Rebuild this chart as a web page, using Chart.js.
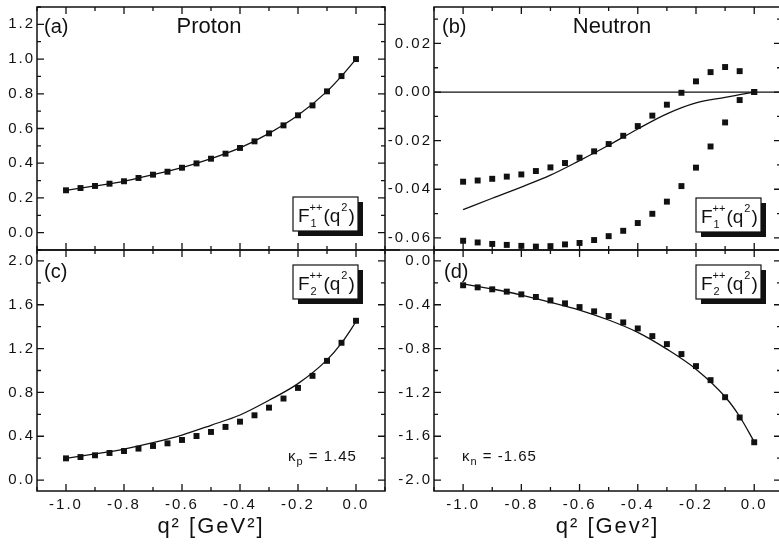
<!DOCTYPE html>
<html>
<head>
<meta charset="utf-8">
<script src="https://cdn.jsdelivr.net/npm/chart.js@4.4.0/dist/chart.umd.min.js"></script>
<style>
  body { margin: 0; background: #fff; width: 779px; height: 547px; overflow: hidden; position: relative; }
  canvas { position: absolute; }
</style>
</head>
<body>
<canvas id="pa" width="400" height="260" style="left:0px;top:0px"></canvas>
<canvas id="pc" width="400" height="307" style="left:0px;top:240px"></canvas>
<canvas id="pb" width="410" height="260" style="left:380px;top:0px"></canvas>
<canvas id="pd" width="410" height="307" style="left:380px;top:240px"></canvas>
<script>
// q^2 of the squares and of the curves (GeV^2)
const q2 = [-1.0, -0.95, -0.9, -0.85, -0.8, -0.75, -0.7, -0.65, -0.6, -0.55, -0.5,
            -0.45, -0.4, -0.35, -0.3, -0.25, -0.2, -0.15, -0.1, -0.05, 0.0];
const lineQ2 = [-1.0, -0.9, -0.8, -0.7, -0.6, -0.5, -0.4, -0.3, -0.2, -0.1, -0.05, 0.0];

// (a) proton F1
const protonF1 = [0.244, 0.257, 0.269, 0.282, 0.296, 0.315, 0.334, 0.351, 0.374, 0.399, 0.426,
                  0.455, 0.488, 0.526, 0.572, 0.618, 0.676, 0.733, 0.814, 0.902, 1.0];
const protonF1Curve = [0.244, 0.269, 0.296, 0.334, 0.374, 0.426, 0.488, 0.572, 0.676, 0.814, 0.902, 1.0];

// (b) neutron F1, two sets of squares
const neutronF1Upper = [-0.0369, -0.0364, -0.0357, -0.0348, -0.0339, -0.0325, -0.0310, -0.0292, -0.0270, -0.0244, -0.0214,
                        -0.0180, -0.0140, -0.0097, -0.0052, -0.0003, 0.0044, 0.0082, 0.0103, 0.0086, 0.0];
const neutronF1Lower = [-0.0612, -0.0619, -0.0625, -0.0629, -0.0633, -0.0636, -0.0634, -0.0627, -0.0621, -0.0609, -0.0593,
                        -0.0571, -0.0539, -0.0501, -0.0451, -0.0387, -0.0311, -0.0224, -0.0125, -0.0033, 0.0];
const neutronF1Curve = [-0.0484, -0.0437, -0.0391, -0.0342, -0.0282, -0.0219, -0.0152, -0.0090, -0.0045, -0.0022, -0.0011, 0.0];

// (c) proton F2
const protonF2 = [0.198, 0.210, 0.226, 0.247, 0.265, 0.287, 0.311, 0.335, 0.366, 0.402, 0.439,
                  0.485, 0.533, 0.591, 0.661, 0.744, 0.841, 0.951, 1.088, 1.253, 1.454];
const protonF2Curve = [0.198, 0.238, 0.283, 0.341, 0.411, 0.500, 0.594, 0.728, 0.880, 1.097, 1.25, 1.445];

// (d) neutron F2
const neutronF2 = [-0.222, -0.241, -0.259, -0.280, -0.305, -0.329, -0.360, -0.387, -0.421, -0.460, -0.503,
                   -0.561, -0.616, -0.686, -0.759, -0.850, -0.960, -1.088, -1.244, -1.429, -1.655];
const neutronF2Curve = [-0.21, -0.256, -0.311, -0.378, -0.448, -0.539, -0.652, -0.805, -0.988, -1.240, -1.42, -1.65];

// tick labels
const xTicks = [-1.0, -0.8, -0.6, -0.4, -0.2, 0.0];
const yTicksA = [0.0, 0.2, 0.4, 0.6, 0.8, 1.0, 1.2];
const yTicksB = [-0.06, -0.04, -0.02, 0.0, 0.02];
const yTicksC = [0.0, 0.4, 0.8, 1.2, 1.6, 2.0];
const yTicksD = [-2.0, -1.6, -1.2, -0.8, -0.4, 0.0];

const ink = '#111';
const FONT = 'Liberation Sans, Arial, sans-serif';
Chart.defaults.font.family = FONT;
Chart.defaults.font.size = 15;
Chart.defaults.color = ink;

const pts = (xs, ys) => xs.map((x, i) => ({ x, y: ys[i] }));

function text(ctx, s, x, y, size, align) {
  ctx.font = size + 'px ' + FONT;
  ctx.textAlign = align || 'left';
  ctx.textBaseline = 'alphabetic';
  ctx.fillText(s, x, y);
  return ctx.measureText(s).width;
}

// framed label  F_n^{++}(q^2) with a drop shadow
function fBox(ctx, x, y, sub) {
  const w = 65, h = 34;
  ctx.fillStyle = ink;
  ctx.fillRect(x + 5, y + 5, w, h);
  ctx.fillStyle = '#fff';
  ctx.fillRect(x, y, w, h);
  ctx.strokeStyle = ink;
  ctx.lineWidth = 1.2;
  ctx.strokeRect(x, y, w, h);
  ctx.fillStyle = ink;
  let cx = x + 5;
  cx += text(ctx, 'F', cx, y + 25, 19);
  const sw = text(ctx, '++', cx, y + 14, 11);
  text(ctx, sub, cx + 1, y + 30, 11);
  cx += sw + 1;
  cx += text(ctx, '(q', cx, y + 25, 19);
  cx += text(ctx, '2', cx + 1, y + 14, 11) + 2;
  text(ctx, ')', cx, y + 25, 19);
}

function kappa(ctx, x, y, sub, val) {
  ctx.fillStyle = ink;
  ctx.letterSpacing = '1px';
  let cx = x;
  cx += text(ctx, 'κ', cx, y, 15);
  cx += text(ctx, sub, cx, y + 4, 11);
  text(ctx, ' = ' + val, cx, y, 15);
  ctx.letterSpacing = '0px';
}

// inner tick marks on all four sides, frame, zero line and panel texts
const panelDeco = {
  id: 'panelDeco',
  beforeDraw(chart) {
    chart.ctx.letterSpacing = '2px';
  },
  beforeDatasetsDraw(chart, args, o) {
    const ctx = chart.ctx, a = chart.chartArea;
    ctx.letterSpacing = '0px';
    if (o.zeroLine) {
      const y0 = chart.scales.y.getPixelForValue(0);
      ctx.save();
      ctx.strokeStyle = ink;
      ctx.lineWidth = 1.2;
      ctx.beginPath();
      ctx.moveTo(a.left, y0);
      ctx.lineTo(a.right, y0);
      ctx.stroke();
      ctx.restore();
    }
  },
  afterDraw(chart, args, o) {
    const ctx = chart.ctx, a = chart.chartArea;
    const sx = chart.scales.x, sy = chart.scales.y;
    ctx.save();
    ctx.strokeStyle = ink;
    ctx.fillStyle = ink;
    ctx.lineWidth = 1.5;
    ctx.strokeRect(a.left, a.top, a.right - a.left, a.bottom - a.top);
    // the split line between upper and lower rows runs through the gap
    if (o.split) {
      ctx.beginPath();
      ctx.moveTo(o.split === 'right' ? a.right : 0, a.bottom);
      ctx.lineTo(o.split === 'right' ? chart.width : a.left, a.bottom);
      ctx.stroke();
    }

    ctx.lineWidth = 1.3;
    const marks = (major, lo, hi) => {
      const step = major[1] - major[0];
      const out = [];
      major.forEach(v => out.push([v, 7]));
      major.forEach(v => out.push([v + step / 2, 4]));
      out.push([major[0] - step / 2, 4]);
      return out.filter(m => m[0] >= lo - 1e-9 && m[0] <= hi + 1e-9);
    };
    ctx.beginPath();
    marks(o.xMajor, sx.min, sx.max).forEach(([v, len]) => {
      const px = sx.getPixelForValue(v);
      ctx.moveTo(px, a.bottom); ctx.lineTo(px, a.bottom - len);
      ctx.moveTo(px, a.top); ctx.lineTo(px, a.top + len);
    });
    marks(o.yMajor, sy.min, sy.max).forEach(([v, len]) => {
      const py = sy.getPixelForValue(v);
      ctx.moveTo(a.left, py); ctx.lineTo(a.left + len, py);
      ctx.moveTo(a.right, py); ctx.lineTo(a.right - len, py);
    });
    ctx.stroke();

    text(ctx, o.tag, a.left + o.tagX, a.top + o.tagY, 20);
    if (o.title) text(ctx, o.title, a.left + o.titleX, a.top + 26, 22, 'center');
    fBox(ctx, a.left + o.boxX, a.top + o.boxY, o.boxSub);
    if (o.kappa) kappa(ctx, a.left + o.kappa.x, a.top + o.kappa.y, o.kappa.sub, o.kappa.val);
    ctx.restore();
  }
};

// keep the plot area exactly where the layout padding puts it
const noLabelPad = s => { s.paddingTop = 0; s.paddingBottom = 0; s.paddingLeft = 0; s.paddingRight = 0; };

function panel(id, p) {
  const datasets = p.squares.map(s => ({
    data: pts(q2, s),
    showLine: false,
    pointStyle: 'rect',
    pointRadius: 4.2,
    pointBorderWidth: 0,
    pointBackgroundColor: ink
  }));
  datasets.push({
    data: pts(lineQ2, p.curve),
    showLine: true,
    pointRadius: 0,
    borderColor: ink,
    borderWidth: 1.3,
    cubicInterpolationMode: 'monotone'
  });
  const dec = p.yDec;
  return new Chart(document.getElementById(id), {
    type: 'scatter',
    data: { datasets },
    options: {
      responsive: false,
      animation: false,
      events: [],
      layout: { padding: p.padding },
      plugins: {
        legend: { display: false },
        tooltip: { enabled: false },
        panelDeco: p.deco
      },
      scales: {
        x: {
          type: 'linear',
          min: -1.1,
          max: p.xMax,
          display: p.showX,
          grid: { display: false, drawTicks: false },
          border: { display: false },
          ticks: { padding: 5, maxRotation: 0, autoSkip: false, callback: v => v.toFixed(1) },
          afterBuildTicks: s => { s.ticks = xTicks.map(v => ({ value: v })); },
          afterFit: s => { s.height = p.showX ? 56 : 0; noLabelPad(s); },
          title: {
            display: p.showX,
            text: p.xTitle || '',
            color: ink,
            font: { size: 22 },
            padding: { top: 0, bottom: 7 }
          }
        },
        y: {
          type: 'linear',
          min: p.yMin,
          max: p.yMax,
          grid: { display: false, drawTicks: false },
          border: { display: false },
          ticks: { padding: 2, autoSkip: false, callback: v => v.toFixed(dec) },
          afterBuildTicks: s => { s.ticks = p.yTicks.map(v => ({ value: v })); },
          afterFit: s => { s.width = p.yWidth; noLabelPad(s); }
        }
      }
    },
    plugins: [panelDeco]
  });
}

panel('pa', {
  squares: [protonF1], curve: protonF1Curve,
  xMax: 0.1, showX: false, yMin: -0.1, yMax: 1.3, yTicks: yTicksA, yDec: 1, yWidth: 37,
  padding: { top: 7, right: 15, bottom: 10, left: 0 },
  deco: { xMajor: xTicks, yMajor: yTicksA, split: 'right', tag: '(a)', tagX: 7, tagY: 26, title: 'Proton', titleX: 172,
          boxX: 256, boxY: 190, boxSub: '1' }
});

panel('pc', {
  squares: [protonF2], curve: protonF2Curve,
  xMax: 0.1, showX: true, xTitle: 'q² [GeV²]', yMin: -0.1, yMax: 2.1, yTicks: yTicksC, yDec: 1, yWidth: 37,
  padding: { top: 10, right: 15, bottom: 0, left: 0 },
  deco: { xMajor: xTicks, yMajor: yTicksC, tag: '(c)', tagX: 7, tagY: 28,
          boxX: 256, boxY: 15, boxSub: '2',
          kappa: { x: 251, y: 211, sub: 'p', val: '1.45' } }
});

panel('pb', {
  squares: [neutronF1Upper, neutronF1Lower], curve: neutronF1Curve,
  xMax: 0.092, showX: false, yMin: -0.065, yMax: 0.035, yTicks: yTicksB, yDec: 2, yWidth: 54,
  padding: { top: 7, right: 9, bottom: 10, left: 0 },
  deco: { xMajor: xTicks, yMajor: yTicksB, zeroLine: true, split: 'left', tag: '(b)', tagX: 8, tagY: 26, title: 'Neutron', titleX: 178,
          boxX: 262, boxY: 191, boxSub: '1' }
});

panel('pd', {
  squares: [neutronF2], curve: neutronF2Curve,
  xMax: 0.092, showX: true, xTitle: 'q² [Gev²]', yMin: -2.1, yMax: 0.1, yTicks: yTicksD, yDec: 1, yWidth: 54,
  padding: { top: 10, right: 9, bottom: 0, left: 0 },
  deco: { xMajor: xTicks, yMajor: yTicksD, tag: '(d)', tagX: 10, tagY: 28,
          boxX: 262, boxY: 15, boxSub: '2',
          kappa: { x: 28, y: 211, sub: 'n', val: '-1.65' } }
});
</script>
</body>
</html>
